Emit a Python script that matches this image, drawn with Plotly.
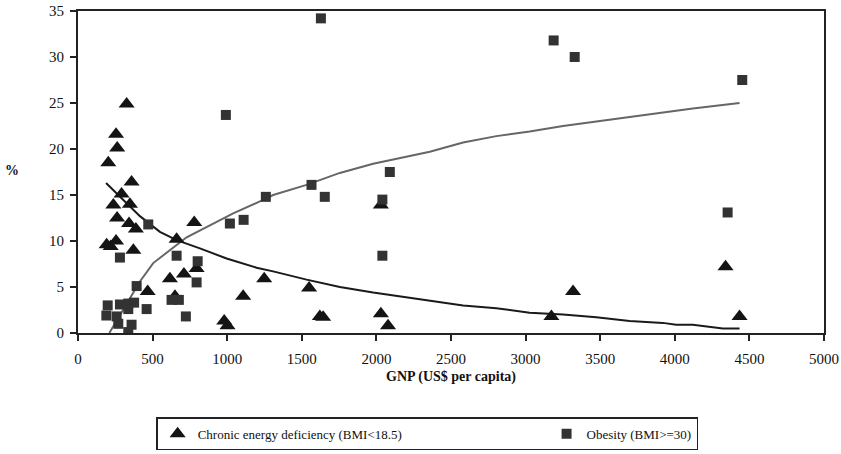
import plotly.graph_objects as go

# Chronic energy deficiency (BMI<18.5): GNP, %
ced_gnp = [326, 255, 263, 203, 359, 292, 237, 348, 262, 342, 388, 192, 219, 255, 371,
           661, 779, 616, 710, 795, 467, 650, 1107, 980, 1002, 2030, 1248, 1549, 1621,
           1643, 2030, 2078, 3318, 3173, 4340, 4434]
ced_pct = [24.9, 21.6, 20.1, 18.5, 16.4, 15.1, 13.9, 14.0, 12.5, 11.9, 11.3, 9.6, 9.4, 10.0, 9.0,
           10.2, 12.0, 5.9, 6.4, 7.0, 4.5, 4.0, 4.0, 1.3, 0.8, 13.9, 5.9, 4.9, 1.8,
           1.7, 2.1, 0.8, 4.5, 1.8, 7.2, 1.8]

# Obesity (BMI>=30): GNP, %
ob_gnp = [199, 281, 337, 376, 190, 259, 337, 270, 359, 337, 393, 460, 281, 471, 661,
          627, 676, 723, 795, 802, 1018, 1110, 991, 1259, 1565, 1654, 1628, 2040, 2040,
          2090, 3188, 3329, 4354, 4452]
ob_pct = [3.0, 3.1, 3.2, 3.3, 1.9, 1.8, 2.6, 1.0, 0.9, 0.1, 5.1, 2.6, 8.2, 11.8, 8.4,
          3.6, 3.6, 1.8, 5.5, 7.8, 11.9, 12.3, 23.7, 14.8, 16.1, 14.8, 34.2, 14.5, 8.4,
          17.5, 31.8, 30.0, 13.1, 27.5]

# Trend curves
ced_trend_x = [188, 292, 415, 549, 661, 817, 996, 1197, 1308, 1532, 1755, 1978, 2201, 2425,
               2581, 2804, 3027, 3251, 3474, 3697, 3920, 4009, 4121, 4322, 4434]
ced_trend_y = [16.3, 14.6, 12.7, 11.0, 10.1, 9.2, 8.1, 7.1, 6.7, 5.8, 5.0, 4.4, 3.9, 3.4,
               3.0, 2.7, 2.2, 2.0, 1.7, 1.3, 1.1, 0.9, 0.9, 0.5, 0.5]
ob_trend_x = [210, 326, 415, 504, 616, 728, 884, 1040, 1219, 1308, 1532, 1755, 1978, 2358,
              2581, 2804, 3027, 3251, 3474, 3697, 3920, 4121, 4434]
ob_trend_y = [0.0, 3.2, 5.6, 7.6, 9.0, 10.4, 11.7, 13.0, 14.3, 15.0, 16.1, 17.4, 18.4, 19.7,
              20.7, 21.4, 21.9, 22.5, 23.0, 23.5, 24.0, 24.4, 25.0]

x_ticks = [0, 500, 1000, 1500, 2000, 2500, 3000, 3500, 4000, 4500, 5000]
y_ticks = [0, 5, 10, 15, 20, 25, 30, 35]

FONT = "Liberation Serif, Times New Roman, serif"
NB = "\u00a0"

fig = go.Figure()
fig.add_trace(go.Scatter(x=ced_trend_x, y=ced_trend_y, mode="lines",
                         line=dict(color="#1a1a1a", width=2), showlegend=False, hoverinfo="skip"))
fig.add_trace(go.Scatter(x=ob_trend_x, y=ob_trend_y, mode="lines",
                         line=dict(color="#666666", width=2), showlegend=False, hoverinfo="skip"))
fig.add_trace(go.Scatter(x=ced_gnp, y=ced_pct, mode="markers",
                         name="Chronic energy deficiency (BMI<18.5)" + NB * 43,
                         marker=dict(symbol="triangle-up", size=14, color="#141414")))
fig.add_trace(go.Scatter(x=ob_gnp, y=ob_pct, mode="markers",
                         name="Obesity (BMI>=30)",
                         marker=dict(symbol="square", size=10, color="#333333")))

axis_common = dict(showgrid=False, zeroline=False, showline=True, linecolor="#222222",
                   linewidth=2, mirror=True, ticks="outside", ticklen=6, tickwidth=2,
                   tickcolor="#222222", automargin=False, ticklabeloverflow="allow",
                   tickfont=dict(family=FONT, size=15, color="#111111"))

fig.update_layout(
    width=841, height=454,
    margin=dict(l=78, r=17, t=11, b=121, autoexpand=False),
    paper_bgcolor="white", plot_bgcolor="white",
    font=dict(family=FONT, size=14, color="#111111"),
    xaxis=dict(range=[0, 5000], tickvals=x_ticks, ticklabelstandoff=5, **axis_common),
    yaxis=dict(range=[0, 35], tickvals=y_ticks, ticklabelstandoff=3, **axis_common),
    legend=dict(orientation="h", x=0.468, xanchor="center", y=-0.262, yanchor="top",
                bordercolor="#222222", borderwidth=1.5, bgcolor="white",
                font=dict(family=FONT, size=13, color="#111111")),
    annotations=[
        dict(text="<b>GNP (US$ per capita)</b>", xref="paper", yref="paper",
             x=0.5, y=-0.137, xanchor="center", yanchor="middle", showarrow=False,
             font=dict(family=FONT, size=14, color="#111111")),
        dict(text="<b>%</b>", xref="paper", yref="paper",
             x=-0.088, y=0.506, xanchor="center", yanchor="middle", showarrow=False,
             font=dict(family=FONT, size=14, color="#111111")),
    ],
)

fig.write_html("out.html", config={"displayModeBar": False},
               post_script="document.body.style.margin='0';")
